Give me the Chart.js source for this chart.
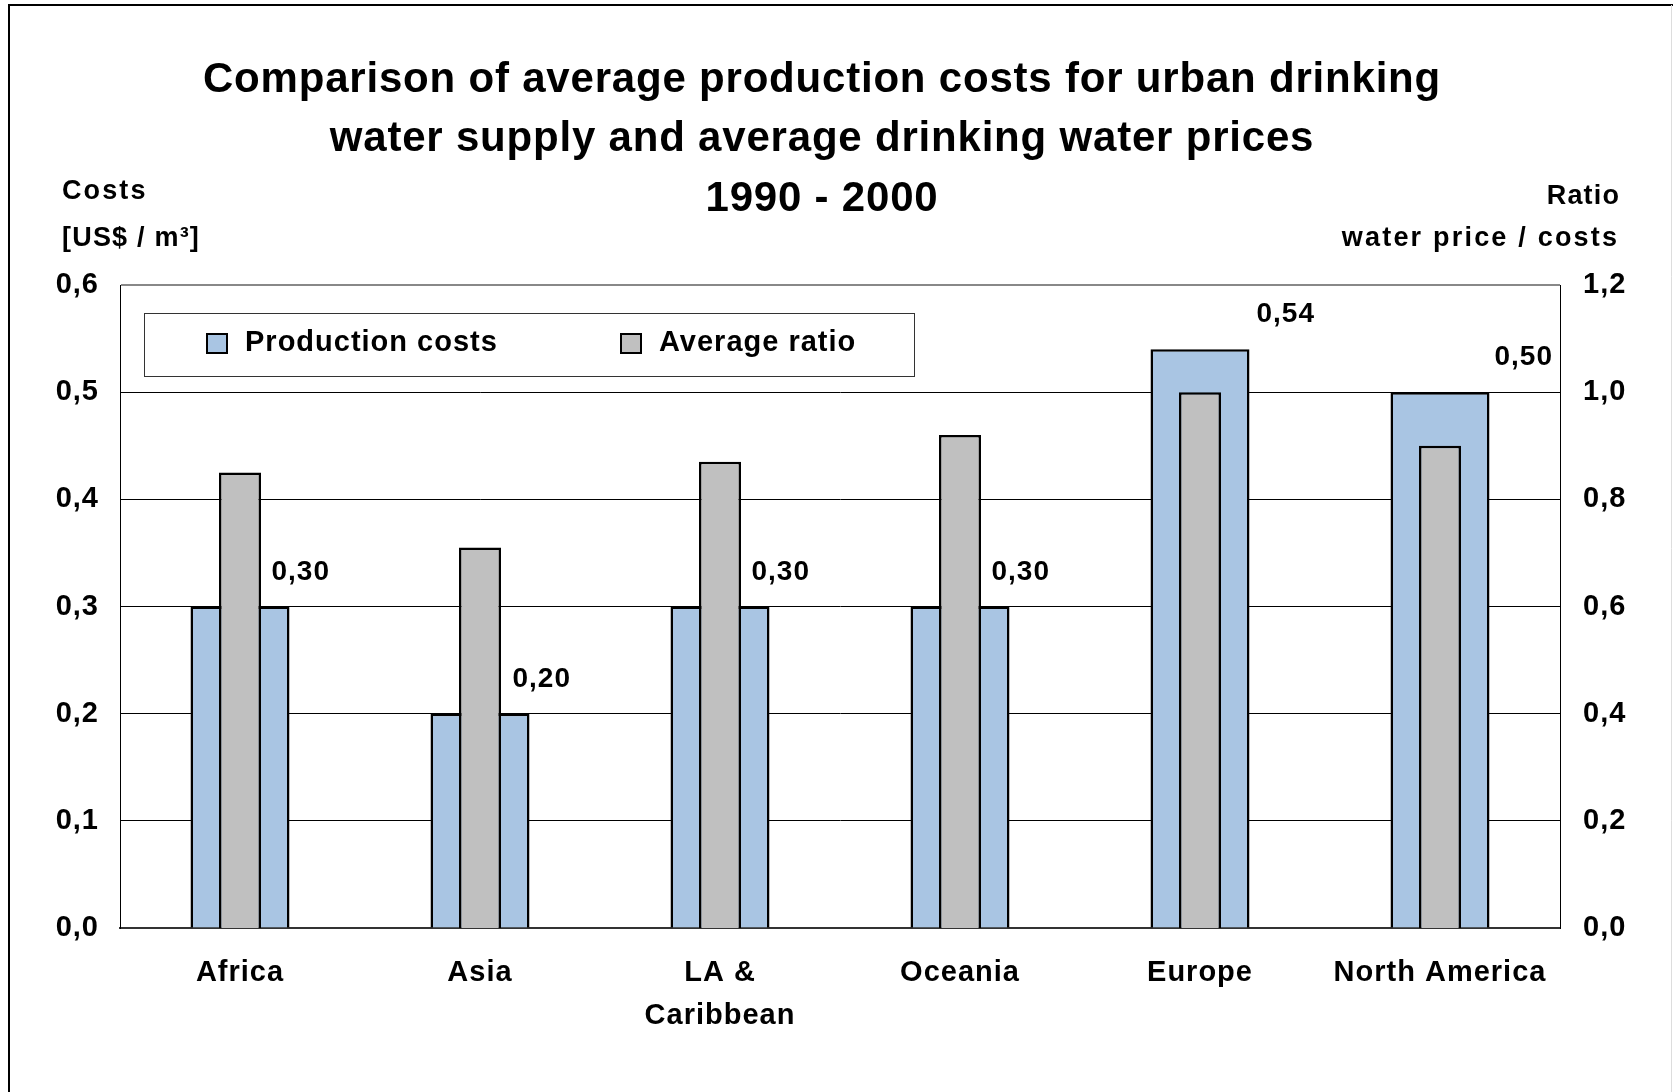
<!DOCTYPE html>
<html>
<head>
<meta charset="utf-8">
<title>Production costs and water prices 1990 - 2000</title>
<script src="https://cdn.jsdelivr.net/npm/chart.js@4.4.0/dist/chart.umd.min.js"></script>
<style>
  html, body { margin: 0; padding: 0; background: #fff; }
  canvas { display: block; }
</style>
</head>
<body>
<canvas id="chart" width="1673" height="1092"></canvas>
<script>
// regions on the x axis (multi-line label for LA & Caribbean)
var regions = ['Africa', 'Asia', ['LA &', 'Caribbean'], 'Oceania', 'Europe', 'North America'];
// average production costs, US$ per m3
var productionCosts = [0.30, 0.20, 0.30, 0.30, 0.54, 0.50];
// ratio of water price to production costs
var averageRatio = [0.85, 0.71, 0.87, 0.92, 1.00, 0.90];

var seriesNames = ['Production costs', 'Average ratio'];
var titleLines = [
    'Comparison of average production costs for urban drinking',
    'water supply and average drinking water prices',
    '1990 - 2000'
];
var leftTitle = ['Costs', '[US$ / m\u00B3]'];
var rightTitle = ['Ratio', 'water price / costs'];

var FONT = "'Liberation Sans', Arial, sans-serif";
var BLUE = '#A9C5E3';
var GREY = '#C0C0C0';

function comma(v, d) {
    return v.toFixed(d).replace('.', ',');
}

function drawText(ctx, s, x, y, size, align, spacing) {
    ctx.save();
    ctx.font = 'bold ' + size + 'px ' + FONT;
    ctx.letterSpacing = spacing + 'px';
    ctx.textAlign = align;
    ctx.textBaseline = 'alphabetic';
    ctx.fillStyle = '#000';
    if (align === 'right') x += spacing;
    ctx.fillText(s, x, y);
    ctx.restore();
}

// headings, legend box, value labels and outer frame
var decorations = {
    id: 'decorations',
    beforeDraw: function(chart) {
        chart.ctx.letterSpacing = '1px';
    },
    afterDraw: function(chart, args, opts) {
        var ctx = chart.ctx;
        ctx.save();
        ctx.letterSpacing = '0px';

        // outer frame
        ctx.strokeStyle = '#000';
        ctx.lineWidth = 2;
        ctx.beginPath();
        ctx.moveTo(9, chart.height);
        ctx.lineTo(9, 5);
        ctx.lineTo(chart.width, 5);
        ctx.stroke();
        ctx.strokeStyle = '#ddd';
        ctx.lineWidth = 1;
        ctx.beginPath();
        ctx.moveTo(chart.width - 1.5, 5);
        ctx.lineTo(chart.width - 1.5, chart.height);
        ctx.stroke();

        // title
        var ty = [92, 151, 211];
        titleLines.forEach(function(line, i) {
            drawText(ctx, line, 822, ty[i], 42, 'center', 0.8);
        });

        // axis titles
        drawText(ctx, leftTitle[0], 62, 199, 27, 'left', 2.1);
        drawText(ctx, leftTitle[1], 62, 246, 27, 'left', 1.2);
        drawText(ctx, rightTitle[0], 1619, 204, 27, 'right', 1.2);
        drawText(ctx, rightTitle[1], 1617, 246, 27, 'right', 2.2);

        // legend
        ctx.strokeStyle = '#333';
        ctx.lineWidth = 1;
        ctx.strokeRect(144.5, 313.5, 770, 63);
        var lx = [207, 621];
        chart.data.datasets.forEach(function(ds, i) {
            ctx.fillStyle = ds.backgroundColor;
            ctx.fillRect(lx[i], 334, 20, 19);
            ctx.strokeStyle = '#000';
            ctx.lineWidth = 2;
            ctx.strokeRect(lx[i], 334, 20, 19);
            drawText(ctx, ds.label, lx[i] + 38, 351, 29, 'left', 1);
        });

        // value labels on the cost bars
        var meta = chart.getDatasetMeta(0);
        meta.data.forEach(function(bar, i) {
            var v = chart.data.datasets[0].data[i];
            var right = bar.x + bar.width / 2;
            drawText(ctx, comma(v, 2), right + opts.nudge[i], bar.y - 27, 28, 'left', 1);
        });
        ctx.restore();
    }
};

new Chart(document.getElementById('chart').getContext('2d'), {
    type: 'bar',
    data: {
        labels: regions,
        datasets: [
            {
                label: seriesNames[0],
                data: productionCosts,
                yAxisID: 'y',
                backgroundColor: BLUE,
                borderColor: '#000',
                borderWidth: 2.5,
                grouped: false,
                categoryPercentage: 1,
                barPercentage: 0.4125,
                order: 2
            },
            {
                label: seriesNames[1],
                data: averageRatio,
                yAxisID: 'y2',
                backgroundColor: GREY,
                borderColor: '#000',
                borderWidth: 2.5,
                grouped: false,
                categoryPercentage: 1,
                barPercentage: 0.175,
                order: 1
            }
        ]
    },
    options: {
        responsive: false,
        animation: false,
        layout: { padding: { top: 285, left: 0, right: 0, bottom: 0 } },
        font: { family: FONT },
        plugins: {
            legend: { display: false },
            tooltip: { enabled: false },
            decorations: { nudge: [-18, -17, -18, -18, 7, 5] }
        },
        scales: {
            x: {
                grid: { display: false, drawTicks: false },
                border: { display: true, color: '#333', width: 2 },
                ticks: {
                    color: '#000',
                    padding: 24,
                    font: { family: FONT, size: 29, weight: 'bold', lineHeight: 1.48 }
                },
                afterFit: function(s) { s.height = 164; }
            },
            y: {
                position: 'left',
                min: 0,
                max: 0.6,
                grid: {
                    drawTicks: false,
                    color: function(c) { return c.tick && c.tick.value >= 0.6 ? '#888' : '#000'; },
                    lineWidth: function(c) { return c.tick && c.tick.value >= 0.6 ? 2 : 1; }
                },
                border: { color: '#000', width: 1 },
                ticks: {
                    stepSize: 0.1,
                    color: '#000',
                    padding: 21,
                    font: { family: FONT, size: 29, weight: 'bold' },
                    callback: function(v) { return comma(v, 1); }
                },
                afterFit: function(s) { s.width = 120; }
            },
            y2: {
                position: 'right',
                min: 0,
                max: 1.2,
                grid: { display: false, drawTicks: false },
                border: { color: '#000', width: 1 },
                ticks: {
                    stepSize: 0.2,
                    color: '#000',
                    padding: 23,
                    font: { family: FONT, size: 29, weight: 'bold' },
                    callback: function(v) { return comma(v, 1); }
                },
                afterFit: function(s) { s.width = 113; }
            }
        }
    },
    plugins: [decorations]
});
</script>
</body>
</html>
